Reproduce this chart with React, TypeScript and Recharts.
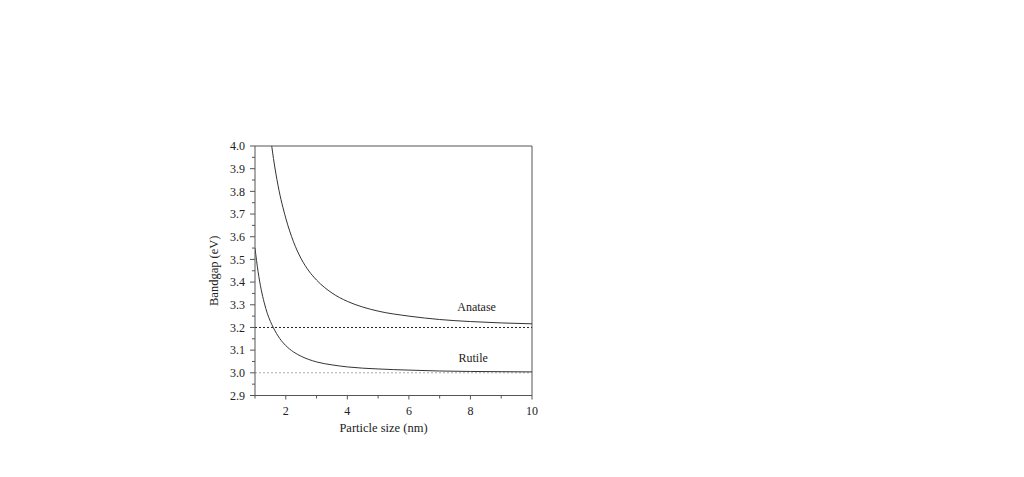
import React from 'react';
import { LineChart, Line, XAxis, YAxis, ReferenceLine, ReferenceDot, Label } from 'recharts';

// Particle size (nm) and bandgap (eV)
const anataseSize = [1.5, 1.6, 1.75, 2.0, 2.25, 2.5, 2.75, 3.0, 3.5, 4.0, 4.5, 5.0, 6.0, 7.0, 8.0, 9.0, 10.0];
const anataseGap = [4.045, 3.945, 3.825, 3.682, 3.578, 3.503, 3.449, 3.409, 3.352, 3.315, 3.29, 3.272, 3.25, 3.235, 3.226, 3.22, 3.216];
const rutileSize = [1.0, 1.1, 1.2, 1.3, 1.4, 1.5, 1.6, 1.8, 2.0, 2.25, 2.5, 3.0, 3.5, 4.0, 5.0, 6.0, 7.0, 8.0, 9.0, 10.0];
const rutileGap = [3.55, 3.446, 3.368, 3.309, 3.262, 3.227, 3.198, 3.152, 3.12, 3.092, 3.073, 3.048, 3.035, 3.026, 3.017, 3.012, 3.008, 3.006, 3.005, 3.004];

const bulkGaps = [3.2, 3.0];
const xDomain = [1, 10];
const yDomain = [2.9, 4.0];
const xMajorTicks = [2, 4, 6, 8, 10];
const xMinorTicks = [1, 3, 5, 7, 9];
const yMajorTicks = [2.9, 3.0, 3.1, 3.2, 3.3, 3.4, 3.5, 3.6, 3.7, 3.8, 3.9, 4.0];
const yMinorTicks = [2.95, 3.05, 3.15, 3.25, 3.35, 3.45, 3.55, 3.65, 3.75, 3.85, 3.95];

const labels = [
  { text: 'Anatase', x: 8.2, y: 3.292 },
  { text: 'Rutile', x: 8.09, y: 3.065 },
];

const anataseData = anataseSize.map((d, i) => ({ d, e: anataseGap[i] }));
const rutileData = rutileSize.map((d, i) => ({ d, e: rutileGap[i] }));

const FONT = '"Liberation Serif", "Times New Roman", serif';
const AXIS = '#555';
const TEXT = '#222';
const CURVE = '#333';

const Y_TICK_SIZE = 5;
const Y_TICK_MARGIN = 5;
const X_TICK_SIZE = 4;
const X_TICK_MARGIN = 7;

const isMajor = (v: number, majors: number[]) => majors.some((m) => Math.abs(m - v) < 1e-6);

const YTick = (props: any) => {
  const { x, y, payload } = props;
  const axisX = x + Y_TICK_SIZE + Y_TICK_MARGIN;
  const major = isMajor(payload.value, yMajorTicks);
  const len = major ? 5 : 3;
  return (
    <g>
      <line x1={axisX - len} x2={axisX} y1={y} y2={y} stroke={AXIS} strokeWidth={1} />
      {major && (
        <text x={x} y={y} dy="0.355em" textAnchor="end" fontSize={12} fontFamily={FONT} fill={TEXT}>
          {payload.value.toFixed(1)}
        </text>
      )}
    </g>
  );
};

const XTick = (props: any) => {
  const { x, y, payload } = props;
  const axisY = y - X_TICK_SIZE - X_TICK_MARGIN;
  const major = isMajor(payload.value, xMajorTicks);
  const len = major ? 4 : 3;
  return (
    <g>
      <line x1={x} x2={x} y1={axisY} y2={axisY + len} stroke={AXIS} strokeWidth={1} />
      {major && (
        <text x={x} y={y} dy="0.71em" textAnchor="middle" fontSize={12} fontFamily={FONT} fill={TEXT}>
          {payload.value}
        </text>
      )}
    </g>
  );
};

export default function App() {
  return (
    <div style={{ width: 1008, height: 460, background: '#fff' }}>
      <LineChart
        width={1008}
        height={460}
        margin={{ top: 138, right: 484, bottom: 44.5, left: 197 }}
        style={{ fontFamily: FONT }}
      >
        <XAxis
          type="number"
          dataKey="d"
          domain={xDomain}
          ticks={[...xMinorTicks, ...xMajorTicks].sort((a, b) => a - b)}
          tick={<XTick />}
          tickLine={false}
          tickSize={X_TICK_SIZE}
          tickMargin={X_TICK_MARGIN}
          axisLine={{ stroke: AXIS, strokeWidth: 1 }}
          height={28}
          interval={0}
          allowDataOverflow
        >
          <Label
            value="Particle size (nm)"
            position="bottom"
            offset={0}
            dx={-10}
            style={{ fontSize: 12.5, fontFamily: FONT, fill: TEXT }}
          />
        </XAxis>
        <YAxis
          type="number"
          dataKey="e"
          domain={yDomain}
          ticks={[...yMinorTicks, ...yMajorTicks].sort((a, b) => a - b)}
          tick={<YTick />}
          tickLine={false}
          tickSize={Y_TICK_SIZE}
          tickMargin={Y_TICK_MARGIN}
          axisLine={{ stroke: AXIS, strokeWidth: 1 }}
          width={50}
          interval={0}
          allowDataOverflow
        >
          <Label
            value="Bandgap (eV)"
            angle={-90}
            position="insideLeft"
            offset={9}
            style={{ fontSize: 12.5, fontFamily: FONT, fill: TEXT, textAnchor: 'middle' }}
          />
        </YAxis>
        <ReferenceLine y={yDomain[1]} stroke={AXIS} strokeWidth={1} />
        <ReferenceLine x={xDomain[1]} stroke={AXIS} strokeWidth={1} />
        <ReferenceLine y={bulkGaps[0]} stroke="#222" strokeWidth={1} strokeDasharray="2 2" />
        <ReferenceLine y={bulkGaps[1]} stroke="#aaa" strokeWidth={1} strokeDasharray="2 2" />
        <Line
          data={anataseData}
          dataKey="e"
          type="monotone"
          stroke={CURVE}
          strokeWidth={1}
          dot={false}
          isAnimationActive={false}
        />
        <Line
          data={rutileData}
          dataKey="e"
          type="monotone"
          stroke={CURVE}
          strokeWidth={1}
          dot={false}
          isAnimationActive={false}
        />
        {labels.map((l) => (
          <ReferenceDot
            key={l.text}
            x={l.x}
            y={l.y}
            r={0}
            fill="none"
            stroke="none"
            label={{ value: l.text, position: 'center', fontSize: 12, fontFamily: FONT, fill: TEXT }}
          />
        ))}
      </LineChart>
    </div>
  );
}
